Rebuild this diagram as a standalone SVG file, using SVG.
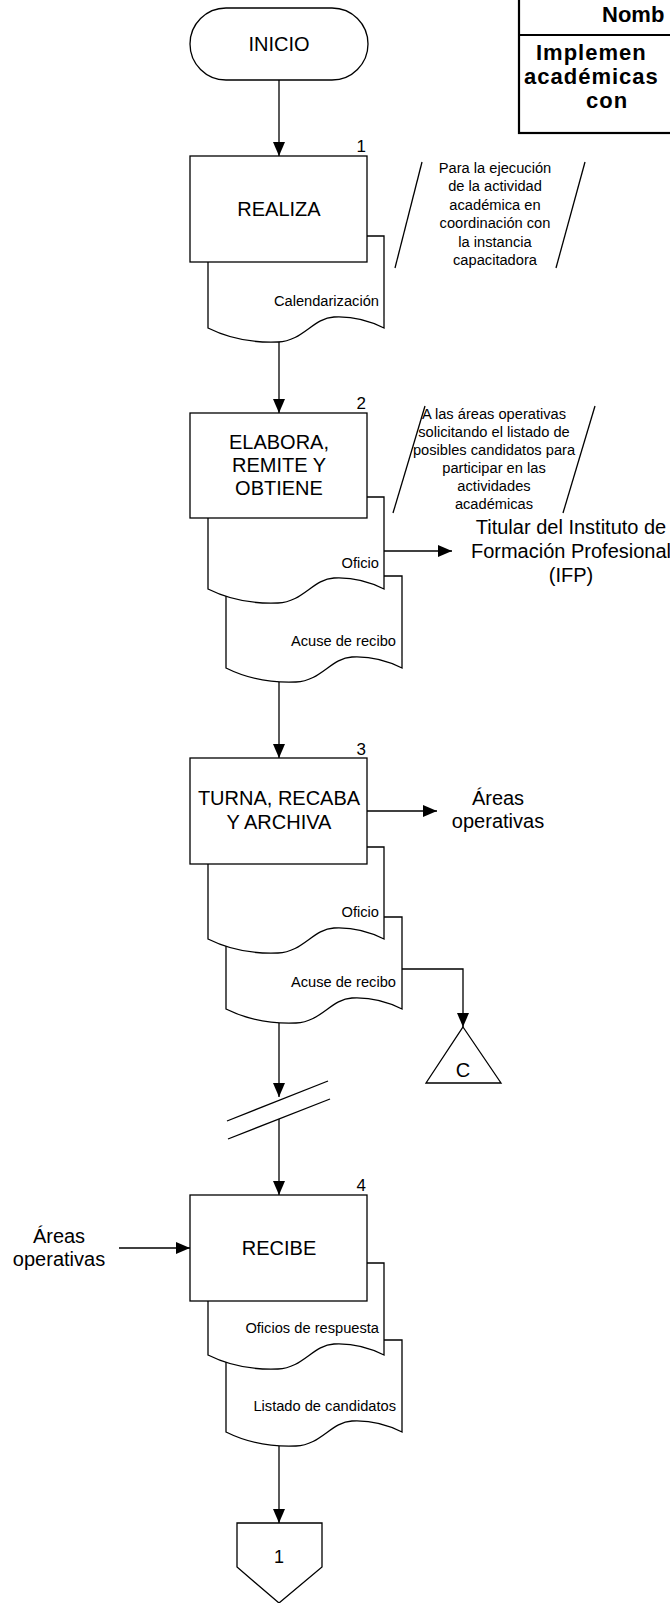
<svg xmlns="http://www.w3.org/2000/svg" width="670" height="1603" viewBox="0 0 670 1603">
<style>
.s{fill:#fff;stroke:#000;stroke-width:1.3}
.ln{fill:none;stroke:#000;stroke-width:1.3}
.t{font-family:"Liberation Sans",Arial,sans-serif;font-size:20px;fill:#000;text-anchor:middle}
.sm{font-family:"Liberation Sans",Arial,sans-serif;font-size:14.67px;fill:#000}
.n{font-family:"Liberation Sans",Arial,sans-serif;font-size:17px;fill:#000;text-anchor:end}
.e{text-anchor:end}
.m{text-anchor:middle}
.b{font-family:"Liberation Sans",Arial,sans-serif;font-size:22px;font-weight:bold;fill:#000;letter-spacing:1px}
</style>
<defs>
<path id="doc" d="M0,0 H176 V92 C164,86 145,80 126,81 C105,82 95,105 70,106 C45,107 20,102 0,92 Z"/>
<marker id="ah" markerUnits="userSpaceOnUse" markerWidth="14" markerHeight="12" refX="14" refY="6" orient="auto">
<path d="M0,0 L14,6 L0,12 Z" fill="#000"/>
</marker>
</defs>

<g id="header">
<rect x="519" y="-5" width="200" height="138" fill="#fff" stroke="#000" stroke-width="2.2"/>
<line x1="519" y1="35" x2="670" y2="35" stroke="#000" stroke-width="2.2"/>
<text class="b" x="602" y="22" style="letter-spacing:0">Nomb</text>
<text class="b" x="536" y="60">Implemen</text>
<text class="b" x="524" y="84">académicas</text>
<text class="b" x="586" y="108">con</text>
</g>

<g id="inicio">
<rect class="s" x="190" y="8" width="178" height="72" rx="36" ry="36"/>
<text class="t" x="279" y="51">INICIO</text>
</g>

<g id="step1">
<use href="#doc" class="s" x="208" y="236"/>
<text class="sm e" x="379" y="306">Calendarización</text>
<rect class="s" x="190" y="156" width="177" height="106"/>
<text class="t" x="279" y="216">REALIZA</text>
<text class="n" x="366" y="152">1</text>
</g>

<g id="note1">
<line class="ln" x1="422" y1="162" x2="395" y2="268"/>
<line class="ln" x1="585" y1="162" x2="556" y2="268"/>
<text class="sm m" x="495" y="173">Para la ejecución</text>
<text class="sm m" x="495" y="191.4">de la actividad</text>
<text class="sm m" x="495" y="209.8">académica en</text>
<text class="sm m" x="495" y="228.2">coordinación con</text>
<text class="sm m" x="495" y="246.6">la instancia</text>
<text class="sm m" x="495" y="265">capacitadora</text>
</g>

<g id="step2">
<use href="#doc" class="s" x="226" y="576"/>
<text class="sm e" x="396" y="646">Acuse de recibo</text>
<use href="#doc" class="s" x="208" y="497"/>
<text class="sm e" x="379" y="568">Oficio</text>
<rect class="s" x="190" y="413" width="177" height="105"/>
<text class="t" x="279" y="449">ELABORA,</text>
<text class="t" x="279" y="472">REMITE Y</text>
<text class="t" x="279" y="495">OBTIENE</text>
<text class="n" x="366" y="409">2</text>
</g>

<g id="note2">
<line class="ln" x1="425" y1="406" x2="393" y2="513"/>
<line class="ln" x1="595" y1="406" x2="563" y2="513"/>
<text class="sm m" x="494" y="419">A las áreas operativas</text>
<text class="sm m" x="494" y="437">solicitando el listado de</text>
<text class="sm m" x="494" y="455">posibles candidatos para</text>
<text class="sm m" x="494" y="473">participar en las</text>
<text class="sm m" x="494" y="491">actividades</text>
<text class="sm m" x="494" y="509">académicas</text>
</g>

<g id="ifp">
<text class="t" x="571" y="534">Titular del Instituto de</text>
<text class="t" x="571" y="558">Formación Profesional</text>
<text class="t" x="571" y="582">(IFP)</text>
</g>

<g id="step3">
<use href="#doc" class="s" x="226" y="917"/>
<text class="sm e" x="396" y="987">Acuse de recibo</text>
<use href="#doc" class="s" x="208" y="847"/>
<text class="sm e" x="379" y="917">Oficio</text>
<rect class="s" x="190" y="758" width="177" height="106"/>
<text class="t" x="279" y="805">TURNA, RECABA</text>
<text class="t" x="279" y="829">Y ARCHIVA</text>
<text class="n" x="366" y="755">3</text>
</g>

<g id="areas1">
<text class="t" x="498" y="805">Áreas</text>
<text class="t" x="498" y="828">operativas</text>
</g>

<g id="connC">
<polygon class="s" points="463,1027 501,1083 426,1083"/>
<text class="t" x="463" y="1077">C</text>
</g>

<g id="areas2">
<text class="t" x="59" y="1243">Áreas</text>
<text class="t" x="59" y="1266">operativas</text>
</g>

<g id="step4">
<use href="#doc" class="s" x="226" y="1340"/>
<text class="sm e" x="396" y="1411">Listado de candidatos</text>
<use href="#doc" class="s" x="208" y="1263"/>
<text class="sm e" x="379" y="1333">Oficios de respuesta</text>
<rect class="s" x="190" y="1195" width="177" height="106"/>
<text class="t" x="279" y="1255">RECIBE</text>
<text class="n" x="366" y="1191">4</text>
</g>

<g id="offpage1">
<polygon class="s" points="237,1523 322,1523 322,1567 279,1603 237,1567"/>
<text class="t" x="279" y="1563" style="font-size:18px">1</text>
</g>

<g id="connectors">
<line class="ln" x1="279" y1="80" x2="279" y2="156" marker-end="url(#ah)"/>
<line class="ln" x1="279" y1="342" x2="279" y2="413" marker-end="url(#ah)"/>
<line class="ln" x1="279" y1="682" x2="279" y2="758" marker-end="url(#ah)"/>
<line class="ln" x1="279" y1="1023" x2="279" y2="1097" marker-end="url(#ah)"/>
<line class="ln" x1="227" y1="1121" x2="328" y2="1081"/>
<line class="ln" x1="228" y1="1139" x2="330" y2="1099"/>
<line class="ln" x1="279" y1="1119" x2="279" y2="1195" marker-end="url(#ah)"/>
<line class="ln" x1="279" y1="1446" x2="279" y2="1523" marker-end="url(#ah)"/>
<line class="ln" x1="384" y1="551" x2="452" y2="551" marker-end="url(#ah)"/>
<line class="ln" x1="367" y1="811" x2="437" y2="811" marker-end="url(#ah)"/>
<polyline class="ln" points="402,969 463,969 463,1027" marker-end="url(#ah)"/>
<line class="ln" x1="119" y1="1248" x2="190" y2="1248" marker-end="url(#ah)"/>
</g>
</svg>
